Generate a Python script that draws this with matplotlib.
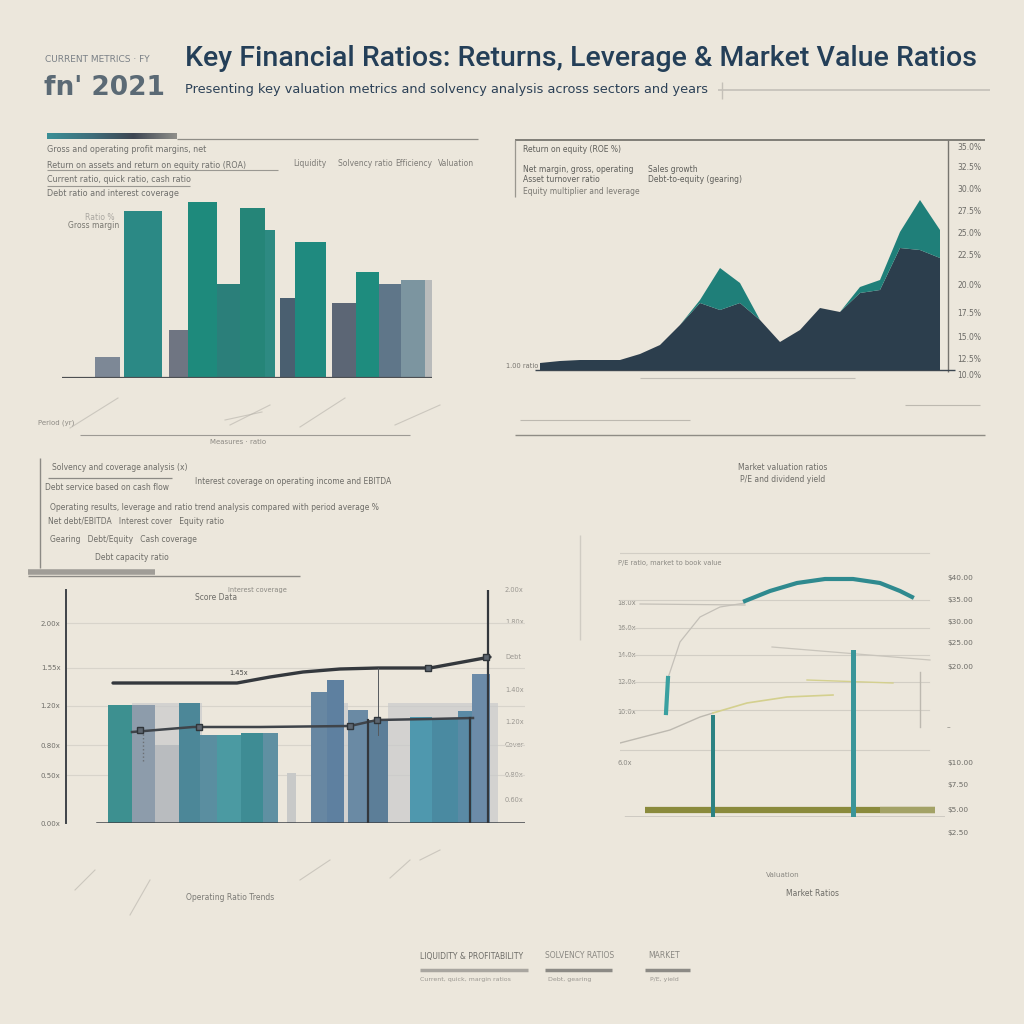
import matplotlib
matplotlib.use("Agg")
import matplotlib.pyplot as plt
import numpy as np

# ---------------- data ----------------
# top-left: ratio bars
tl_categories = ["R1", "R2", "R3", "R4", "R5", "R6", "R7", "R8", "R9", "R10", "R11", "R12", "R13"]
tl_values = [2.1, 16.7, 4.8, 17.6, 9.4, 17.0, 14.8, 8.0, 13.6, 7.5, 10.6, 9.4, 9.8]

# top-right: stacked area (base + upper layer)
tr_periods = list(range(21))
tr_base = [7, 9, 10, 10, 10, 16, 25, 45, 67, 60, 67, 50, 28, 40, 62, 58, 77, 80, 122, 120, 112]
tr_upper = [0, 0, 0, 0, 0, 0, 0, 0, 3, 42, 20, 0, 0, 0, 0, 0, 6, 10, 16, 50, 28]
tr_ticklabels = ["35.0%", "32.5%", "30.0%", "27.5%", "25.0%", "22.5%", "20.0%", "17.5%",
                 "15.0%", "12.5%", "10.0%"]

# bottom-left: bars + two ratio lines
bl_values = [1.18, 1.18, 0.78, 1.20, 0.88, 0.88, 0.90, 0.90, 0.50, 1.31, 1.43,
             1.13, 1.03, 1.06, 1.05, 1.12, 1.49]
bl_backdrop = [1.20, 1.20, 1.20]
bl_line1 = [1.40, 1.40, 1.40, 1.46, 1.51, 1.54, 1.55, 1.55, 1.66]
bl_line2 = [0.91, 0.96, 0.96, 0.97, 1.03, 1.04, 1.05]
bl_ticks = [0.0, 0.48, 0.78, 1.17, 1.55, 2.00]
bl_ticklabels = ["0.00x", "0.50x", "0.80x", "1.20x", "1.55x", "2.00x"]

# bottom-right: market ratio curve + vertical bars
br_curve = [2.16, 2.26, 2.34, 2.38, 2.38, 2.34, 2.26, 2.20]
br_bars = [1.02, 1.67]
br_left_ticks = ["18.0x", "16.0x", "14.0x", "12.0x", "10.0x", "6.0x"]
br_right_ticks = ["$40.00", "$35.00", "$30.00", "$25.00", "$20.00", "–", "$10.00",
                  "$7.50", "$5.00", "$2.50"]

# ---------------- layout helpers ----------------
BG = "#ece7dc"
W = H = 1024
fig = plt.figure(figsize=(10.24, 10.24), dpi=100, facecolor=BG)
NARROW = ["Liberation Sans Narrow", "DejaVu Sans"]
SMALL_C = "#6f6f6c"


def box(x0, y0, x1, y1):
    return [x0 / W, 1 - y1 / H, (x1 - x0) / W, (y1 - y0) / H]


ov = fig.add_axes([0, 0, 1, 1], zorder=0)
ov.set_xlim(0, W)
ov.set_ylim(H, 0)
ov.axis("off")
ov.patch.set_alpha(0)


def t(x, y, s, size=6, color=SMALL_C, **kw):
    kw.setdefault("va", "center")
    kw.setdefault("family", NARROW)
    ov.text(x, y, s, fontsize=size, color=color, **kw)


def hl(x0, x1, y, color="#8c8c88", lw=1.0, alpha=1.0):
    ov.plot([x0, x1], [y, y], color=color, lw=lw, alpha=alpha, solid_capstyle="butt")


def vl(x, y0, y1, color="#8c8c88", lw=1.0, alpha=1.0):
    ov.plot([x, x], [y0, y1], color=color, lw=lw, alpha=alpha, solid_capstyle="butt")


# ---------------- header ----------------
t(45, 60, "CURRENT METRICS · FY", 6.5, "#7a8086")
t(44, 88, "fn' 2021", 19, "#5b6a75", weight="bold")
ov.text(185, 59, "Key Financial Ratios: Returns, Leverage & Market Value Ratios", fontsize=20.5,
        color="#243f58", va="center", family=["Roboto", "DejaVu Sans"], weight="medium")
ov.text(185, 90, "Presenting key valuation metrics and solvency analysis across sectors and years",
        fontsize=9.3, color="#2c4157", va="center", family=NARROW)
hl(718, 990, 90, "#c4c0b8", 1.2)
vl(722, 82, 99, "#c4c0b8", 1.0)

# ---------------- top-left panel ----------------
grad = np.linspace(0, 1, 200)[None, :]
cmap = matplotlib.colors.LinearSegmentedColormap.from_list(
    "g", ["#3a8f96", "#3f6f7c", "#3d4652", "#8f8f8a"])
ov.imshow(grad, extent=[47, 177, 139, 133], aspect="auto", cmap=cmap, zorder=2)
hl(177, 478, 139, "#8f8d86", 0.9)
t(47, 149, "Gross and operating profit margins, net", 5.8)
t(47, 165, "Return on assets and return on equity ratio (ROA)", 5.8)
hl(47, 278, 170, "#9a9892", 0.8)
t(47, 180, "Current ratio, quick ratio, cash ratio", 5.8)
hl(47, 190, 186, "#9a9892", 0.8)
t(47, 193, "Debt ratio and interest coverage", 5.8)
for x, s in zip([293, 338, 395, 438], ["Liquidity", "Solvency ratio", "Efficiency", "Valuation"]):
    t(x, 164, s, 5.5, "#7d7b76")
t(85, 217, "Ratio %", 5.5, "#a9a6a0")
t(68, 226, "Gross margin", 5.5, "#77766f")

ax1 = fig.add_axes(box(62, 190, 432, 378), zorder=2)
ax1.patch.set_alpha(0)
tl_x = [33, 62, 107, 126, 155, 178, 203, 218, 233, 270, 294, 317, 339]
tl_w = [25, 38, 19, 29, 23, 25, 10, 15, 31, 24, 23, 22, 24]
tl_colors = ["#7d8896", "#2b8985", "#6f7582", "#1e8a7c", "#2b7f7a", "#258578", "#2d8a82",
             "#4a5f70", "#1f8a7f", "#5c6675", "#1e8c7e", "#5f7689", "#7c95a0"]
ax1.bar(tl_x, tl_values, width=tl_w, align="edge", color=tl_colors, linewidth=0)
ax1.bar([363], [9.8], width=[7], align="edge", color="#b9bbbb", linewidth=0)
ax1.set_xlim(0, 370)
ax1.set_ylim(0, 18.8)
ax1.axis("off")
ax1.axhline(0, color="#4d4f52", lw=1.6)

hl(80, 410, 435, "#9d9a94", 0.8)
t(210, 442, "Measures · ratio", 5, "#8d8a84")
t(38, 423, "Period (yr)", 5, "#8d8a84")
for (x0, y0, x1, y1) in [(70, 428, 118, 398), (230, 425, 270, 405), (300, 427, 345, 398),
                         (225, 420, 262, 412), (395, 425, 440, 405)]:
    ov.plot([x0, x1], [y0, y1], color="#b6b2aa", lw=0.8, alpha=0.6)

# ---------------- top-right panel ----------------
hl(515, 985, 140, "#77756f", 1.3)
vl(515, 140, 197, "#9a978f", 0.9)
vl(948, 140, 372, "#77756f", 1.0)
hl(515, 985, 435, "#8f8c85", 1.0)
hl(640, 855, 378, "#c2beb6", 0.8)
t(523, 150, "Return on equity (ROE %)", 5.5, "#5e5e5a")
t(523, 169, "Net margin, gross, operating", 5.5, "#5e5e5a")
t(648, 169, "Sales growth", 5.5, "#5e5e5a")
t(523, 180, "Asset turnover ratio", 5.5, "#5e5e5a")
t(648, 180, "Debt-to-equity (gearing)", 5.5, "#5e5e5a")
t(523, 191, "Equity multiplier and leverage", 5.5, "#7a7872")
t(506, 366, "1.00 ratio", 4.8, "#77746e")
for y, s in zip([148, 168, 190, 212, 233, 256, 285, 313, 337, 359, 375], tr_ticklabels):
    t(957, y, s, 5.5, "#6b6a66")
hl(520, 690, 420, "#aaa69e", 0.8, 0.7)
hl(905, 980, 405, "#aaa69e", 0.8, 0.7)

ax2 = fig.add_axes(box(540, 190, 940, 370), zorder=2)
ax2.patch.set_alpha(0)
ax2.stackplot(tr_periods, tr_base, tr_upper, colors=["#2c3e4d", "#1f7f79"], linewidth=0)
ax2.set_xlim(0, 20)
ax2.set_ylim(0, 180)
ax2.axis("off")
hl(535, 955, 370, "#3c4650", 1.0)

# ---------------- bottom-left panel ----------------
vl(40, 458, 568, "#8c8a85", 1.0)
t(52, 467, "Solvency and coverage analysis (x)", 5.5, "#6d6c67")
hl(48, 172, 478, "#8c8a85", 0.9)
t(45, 487, "Debt service based on cash flow", 5.5, "#6d6c67")
t(195, 482, "Interest coverage on operating income and EBITDA", 5.5, "#6d6c67")
t(50, 507, "Operating results, leverage and ratio trend analysis compared with period average %", 5.5, "#6d6c67")
t(48, 522, "Net debt/EBITDA   Interest cover   Equity ratio", 5.5, "#6d6c67")
t(50, 539, "Gearing   Debt/Equity   Cash coverage", 5.5, "#6d6c67")
t(95, 557, "Debt capacity ratio", 5.5, "#6d6c67")
hl(28, 155, 572, "#a09d97", 4.0)
hl(28, 300, 576, "#8c8a85", 1.0)
t(195, 598, "Score Data", 5.5, "#6d6c67")
t(228, 590, "Interest coverage", 4.8, "#8a8882")
t(230, 897, "Operating Ratio Trends", 5.5, "#7b7a75", ha="center")
for y, s in zip([590, 622, 657, 690, 722, 745, 775, 800], ["2.00x", "1.80x", "Debt", "1.40x", "1.20x", "Cover", "0.80x", "0.60x"]):
    t(505, y, s, 4.8, "#9a9791")
for (x0, y0, x1, y1) in [(75, 890, 95, 870), (130, 915, 150, 880), (300, 880, 330, 860),
                         (390, 878, 410, 860), (420, 860, 440, 850)]:
    ov.plot([x0, x1], [y0, y1], color="#b6b2aa", lw=0.8, alpha=0.6)

ax3 = fig.add_axes(box(66, 590, 525, 823), zorder=2)
ax3.patch.set_alpha(0)
ax3.set_xlim(0, 459)
ax3.set_ylim(0, 2.33)
for spine in ["top", "right", "bottom"]:
    ax3.spines[spine].set_visible(False)
ax3.spines["left"].set_color("#3f4348")
ax3.spines["left"].set_linewidth(1.4)
ax3.set_xticks([])
ax3.set_yticks(bl_ticks)
ax3.set_yticklabels(bl_ticklabels, fontsize=5, color="#6f6e69", family=NARROW)
ax3.tick_params(axis="y", length=0, pad=4)
for yv in bl_ticks[1:]:
    ax3.axhline(yv, color="#d8d4cb", lw=0.8, zorder=0)
# light backdrops
ax3.bar([66, 261, 322], bl_backdrop, width=[70, 21, 110], align="edge",
        color="#c9cacb", alpha=0.7, linewidth=0, zorder=1)
bl_x = [42, 66, 89, 113, 134, 151, 175, 197, 221, 245, 261, 282, 302, 344, 366, 392, 406]
bl_w = [24, 23, 25, 21, 17, 24, 22, 15, 9, 23, 17, 20, 20, 22, 26, 14, 18]
bl_colors = ["#3d9090", "#8d9cab", "#b9bcbf", "#4c8798", "#5a8ea0", "#4b9aa2", "#3e8c94",
             "#5f90a2", "#c8c9c8", "#6787a2", "#5e80a0", "#6a8aa4", "#5c7e98",
             "#4f98ae", "#4a8aa1", "#5a8aa5", "#6c8ba8"]
ax3.bar(bl_x, bl_values, width=bl_w, align="edge", color=bl_colors, linewidth=0, zorder=2)
ax3.axhline(0, xmin=31 / 459, xmax=1, color="#3f4348", lw=1.8, zorder=5)
l1x = [47, 94, 171, 204, 237, 274, 312, 364, 424]
l2x = [66, 127, 194, 284, 311, 364, 407]
ax3.plot(l1x, bl_line1, color="#34383d", lw=2.4, zorder=6, solid_capstyle="round")
ax3.plot(l2x, bl_line2, color="#3f444a", lw=1.8, zorder=6)
ax3.plot([l2x[0] + 8, l2x[1] + 6, l2x[3], l2x[4]], [0.93, 0.96, 0.97, 1.03], ls="none",
         marker="s", ms=4, mfc="#5d6670", mec="#30353a", zorder=7)
ax3.plot([l1x[-2] - 2, l1x[-1] - 4], [1.55, 1.66], ls="none", marker="s", ms=4,
         mfc="#5d6670", mec="#30353a", zorder=7)
for xv, top in [(302, 1.03), (404, 1.05), (422, 2.33)]:
    ax3.plot([xv, xv], [0, top], color="#33373c", lw=1.6, zorder=6)
ax3.plot([312, 312], [0.88, 1.55], color="#55595e", lw=0.7, zorder=6)
ax3.plot([77, 77], [0.62, 0.92], color="#6b6f73", lw=1.0, ls=":", zorder=6)
ax3.text(163, 1.48, "1.45x", fontsize=4.8, color="#4a4a48", family=NARROW)

# ---------------- bottom-right panel ----------------
vl(580, 535, 640, "#d0ccc3", 1.0)
t(783, 468, "Market valuation ratios", 5.5, "#6d6c67", ha="center")
t(783, 479, "P/E and dividend yield", 5.5, "#6d6c67", ha="center")
t(618, 563, "P/E ratio, market to book value", 4.8, "#8a8882")
t(783, 875, "Valuation", 5.2, "#8a8882", ha="center")
t(813, 893, "Market Ratios", 5.5, "#6d6c67", ha="center")
for y, s in zip([603, 628, 655, 682, 712, 763], br_left_ticks):
    t(617, y, s, 4.8, "#8a8882")
for y, s in zip([578, 600, 622, 643, 667, 727, 763, 785, 810, 833], br_right_ticks):
    t(947, y, s, 5.3, "#6d6c67")

ax4 = fig.add_axes(box(620, 550, 945, 817), zorder=2)
ax4.patch.set_alpha(0)
ax4.set_xlim(0, 325)
ax4.set_ylim(0, 2.67)
ax4.axis("off")
for yv in [2.64, 2.17, 1.89, 1.62, 1.35, 1.07, 0.67]:
    ax4.axhline(yv, xmin=0.0, xmax=0.95, color="#d2cec5", lw=0.8, zorder=0)
ax4.axhline(0.0, xmin=5 / 325, xmax=1, color="#55585a", lw=1.0)
ax4.plot([25, 315], [0.07, 0.07], color="#8a8a3c", lw=4.5, solid_capstyle="butt")
ax4.plot([260, 315], [0.07, 0.07], color="#a3a266", lw=4.5, solid_capstyle="butt")
ax4.bar([93, 233], br_bars, width=[4, 5], color=["#2c8283", "#3a9599"], linewidth=0, zorder=3)
curve_x = [125, 150, 177, 205, 233, 260, 280, 292]
ax4.plot(curve_x, br_curve, color="#2f8a8f", lw=3, zorder=3)
ax4.plot([48, 46], [1.39, 1.04], color="#3aa0a0", lw=3, zorder=3)
ax4.plot([0, 50, 80, 93], [0.74, 0.87, 1.00, 1.04], color="#bdb9b0", lw=1.0)
ax4.plot([93, 127, 167, 213], [1.04, 1.14, 1.20, 1.22], color="#d4d08e", lw=1.2)
ax4.plot([48, 60, 80, 100, 125], [1.39, 1.75, 2.0, 2.1, 2.14], color="#c4c0b8", lw=0.9)
ax4.plot([20, 125], [2.13, 2.12], color="#c4c0b8", lw=0.9)
ax4.plot([152, 310], [1.70, 1.57], color="#c9c5bc", lw=0.9)
ax4.plot([187, 273], [1.37, 1.34], color="#d4d08e", lw=1.0)
ax4.plot([300, 300], [0.9, 1.45], color="#bdb9b0", lw=1.0)

# ---------------- bottom legend ----------------
t(420, 956, "LIQUIDITY & PROFITABILITY", 5.5, "#6d6c67")
hl(420, 528, 970, "#a9a6a0", 2.5)
t(420, 980, "Current, quick, margin ratios", 4.5, "#9a9791")
t(545, 956, "SOLVENCY RATIOS", 5.5, "#8a8882")
hl(545, 612, 970, "#8c8a85", 2.5)
t(548, 980, "Debt, gearing", 4.5, "#9a9791")
t(648, 956, "MARKET", 5.5, "#8a8882")
hl(645, 690, 970, "#8c8a85", 2.5)
t(650, 980, "P/E, yield", 4.5, "#9a9791")

fig.savefig("out.png", dpi=100, facecolor=BG)
